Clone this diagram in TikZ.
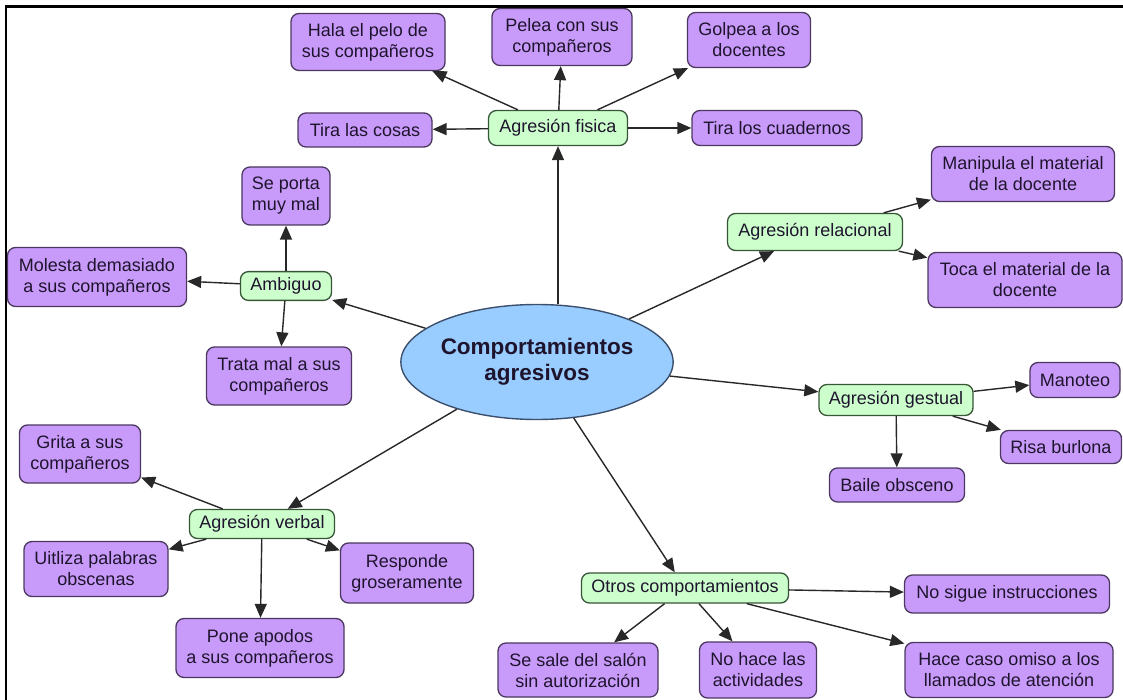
\documentclass[tikz,border=0pt]{standalone}
\usepackage{fontspec}
\setmainfont{Liberation Sans}
\usetikzlibrary{arrows.meta,shapes.geometric}
\definecolor{leaffill}{RGB}{200,155,250}
\definecolor{leafline}{RGB}{75,55,95}
\definecolor{catfill}{RGB}{204,255,204}
\definecolor{catline}{RGB}{55,85,55}
\definecolor{rootfill}{RGB}{153,204,255}
\definecolor{rootline}{RGB}{60,80,110}
\definecolor{ink}{RGB}{30,20,45}
\definecolor{wire}{RGB}{40,40,40}
\tikzset{
  leaf/.style={draw=leafline, fill=leaffill, line width=1.3pt, rounded corners=8pt,
    align=center, text=ink, inner xsep=10pt, inner ysep=6pt,
    font=\fontsize{18}{21}\selectfont, minimum height=34pt},
  cat/.style={leaf, draw=catline, fill=catfill, minimum height=30pt},
  root/.style={ellipse, draw=rootline, fill=rootfill, line width=1.4pt, align=center,
    text=ink, font=\bfseries\fontsize{22.5}{26}\selectfont,
    minimum width=245pt, minimum height=115pt, inner sep=0pt},
  conn/.style={draw=wire, line width=1.4pt, -{Triangle[length=14pt,width=12pt]}}
}
\begin{document}
\begin{tikzpicture}[x=1pt, y=-1pt]
\useasboundingbox (0,0) rectangle (1123,700);
% Frame
\draw[line width=2.5pt] (6,700) -- (6,6.5) -- (1123,6.5);

% Centre
\node[root] (cent) at (537,362) {Comportamientos\\agresivos};

% Agresion fisica
\node[cat, minimum width=139pt, minimum height=35pt] (fisica) at (558,128) {Agresión fisica};
\node[leaf, minimum width=154pt, minimum height=57pt] (hala) at (368,42) {Hala el pelo de\\sus compañeros};
\node[leaf, minimum width=140pt, minimum height=57pt] (pelea) at (562,37) {Pelea con sus\\compañeros};
\node[leaf, minimum width=123pt, minimum height=55pt] (golpea) at (749,40) {Golpea a los\\docentes};
\node[leaf, minimum width=134pt] (cosas) at (365,130) {Tira las cosas};
\node[leaf, minimum width=170pt, minimum height=35pt] (cuadernos) at (777,128) {Tira los cuadernos};

% Ambiguo
\node[cat, minimum width=85pt, minimum height=28pt] (ambiguo) at (286,286) {Ambiguo};
\node[leaf, minimum width=88pt, minimum height=58pt] (porta) at (286,196) {Se porta\\muy mal};
\node[leaf, minimum width=179pt, minimum height=59pt] (molesta) at (97,277) {Molesta demasiado\\a sus compañeros};
\node[leaf, minimum width=145pt, minimum height=58pt] (trata) at (279,376) {Trata mal a sus\\compañeros};

% Agresion relacional
\node[cat, minimum width=175pt, minimum height=37pt] (relacional) at (815,232) {Agresión relacional};
\node[leaf, minimum width=183pt, minimum height=55pt] (manipula) at (1023,174) {Manipula el material\\de la docente};
\node[leaf, minimum width=194pt, minimum height=55pt] (toca) at (1025,280) {Toca el material de la\\docente};

% Agresion gestual
\node[cat, minimum width=148pt, minimum height=31pt] (gestual) at (896,400) {Agresión gestual};
\node[leaf, minimum width=85pt, minimum height=35pt] (manoteo) at (1075,380) {Manoteo};
\node[leaf, minimum width=112pt, minimum height=33pt] (risa) at (1061,447) {Risa burlona};
\node[leaf, minimum width=135pt] (baile) at (897,485) {Baile obsceno};

% Agresion verbal
\node[cat, minimum width=139pt, minimum height=29pt] (verbal) at (262,524) {Agresión verbal};
\node[leaf, minimum width=121pt, minimum height=58pt] (grita) at (80,454) {Grita a sus\\compañeros};
\node[leaf, minimum width=144pt, minimum height=55pt] (uitliza) at (96,569) {Uitliza palabras\\obscenas};
\node[leaf, minimum width=133pt, minimum height=60pt] (responde) at (407,573) {Responde\\groseramente};
\node[leaf, minimum width=168pt, minimum height=59pt] (apodos) at (260,648) {Pone apodos\\a sus compañeros};

% Otros comportamientos
\node[cat, minimum width=204pt] (otros) at (685,588) {Otros comportamientos};
\node[leaf, minimum width=205pt, minimum height=38pt] (nosigue) at (1007,594) {No sigue instrucciones};
\node[leaf, minimum width=160pt, minimum height=54pt] (sesale) at (578,670) {Se sale del salón\\sin autorización};
\node[leaf, minimum width=117pt, minimum height=56pt] (nohace) at (758,670) {No hace las\\actividades};
\node[leaf, minimum width=208pt, minimum height=55pt] (omiso) at (1009,670) {Hace caso omiso a los\\llamados de atención};

% Connectors
\draw[conn] (cent.north -| fisica) -- (fisica);
\draw[conn] (cent) -- (ambiguo);
\draw[conn] (cent) -- (relacional);
\draw[conn] (cent) -- (gestual);
\draw[conn] (cent) -- (verbal);
\draw[conn] (cent) -- (otros);

\draw[conn] (fisica) -- (hala);
\draw[conn] (fisica) -- (pelea);
\draw[conn] (fisica) -- (golpea);
\draw[conn] (fisica) -- (cosas);
\draw[conn] (fisica) -- (cuadernos);

\draw[conn] (ambiguo) -- (porta);
\draw[conn] (ambiguo) -- (molesta);
\draw[conn] (ambiguo) -- (trata);

\draw[conn] (relacional) -- (manipula);
\draw[conn] (relacional) -- (toca);

\draw[conn] (gestual) -- (manoteo);
\draw[conn] (gestual) -- (risa);
\draw[conn] (gestual) -- (baile);

\draw[conn] (verbal) -- (grita);
\draw[conn] (verbal) -- (uitliza);
\draw[conn] (verbal) -- (responde);
\draw[conn] (verbal) -- (apodos);

\draw[conn] (otros) -- (nosigue);
\draw[conn] (otros) -- (sesale);
\draw[conn] (otros) -- (nohace);
\draw[conn] (otros) -- (omiso);
\end{tikzpicture}
\end{document}
